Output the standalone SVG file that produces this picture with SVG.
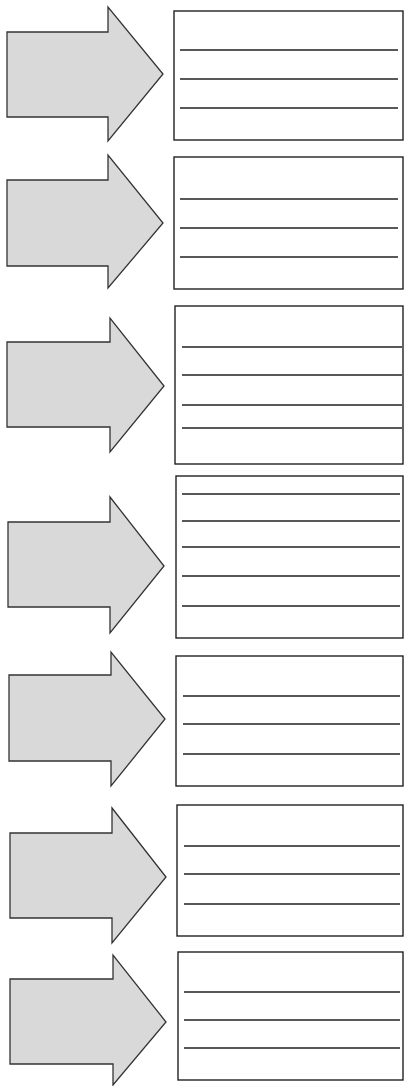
<svg xmlns="http://www.w3.org/2000/svg" width="406" height="1086" viewBox="0 0 406 1086">
<style>
.arrow{fill:#d9d9d9;stroke:#333;stroke-width:1.3;stroke-linejoin:miter}
.box{fill:#fff;stroke:#222;stroke-width:1.4}
.ln{stroke:#222;stroke-width:1.3;fill:none}
</style>
<rect width="406" height="1086" fill="#fff"/>
<g id="arrow1"><polygon class="arrow" points="7,32 108,32 108,7 163,74 108,141 108,117 7,117"/></g>
<g id="box1"><rect class="box" x="174" y="11" width="229" height="129"/>
<path class="ln" d="M180,50H398M180,79H398M180,108H398"/></g>
<g id="arrow2"><polygon class="arrow" points="7,180 108,180 108,155 163,223 108,288 108,266 7,266"/></g>
<g id="box2"><rect class="box" x="174" y="157" width="229" height="132"/>
<path class="ln" d="M180,199H398M180,228H398M180,257H398"/></g>
<g id="arrow3"><polygon class="arrow" points="7,342 110,342 110,318 164,386 110,452 110,427 7,427"/></g>
<g id="box3"><rect class="box" x="175" y="306" width="228" height="158"/>
<path class="ln" d="M182,347H402M182,375H402M182,405H402M182,428H402"/></g>
<g id="arrow4"><polygon class="arrow" points="8,522 110,522 110,497 164,566 110,633 110,607 8,607"/></g>
<g id="box4"><rect class="box" x="176" y="476" width="227" height="162"/>
<path class="ln" d="M182,494H400M182,521H400M182,547H400M182,576H400M182,606H400"/></g>
<g id="arrow5"><polygon class="arrow" points="9,675 111,675 111,652 165,719 111,786 111,761 9,761"/></g>
<g id="box5"><rect class="box" x="176" y="656" width="227" height="130"/>
<path class="ln" d="M183,696H400M183,724H400M183,754H400"/></g>
<g id="arrow6"><polygon class="arrow" points="10,833 112,833 112,808 166,877 112,943 112,918 10,918"/></g>
<g id="box6"><rect class="box" x="177" y="805" width="226" height="131"/>
<path class="ln" d="M184,846H400M184,874H400M184,904H400"/></g>
<g id="arrow7"><polygon class="arrow" points="10,979 113,979 113,955 166,1022 113,1085 113,1064 10,1064"/></g>
<g id="box7"><rect class="box" x="178" y="952" width="225" height="128"/>
<path class="ln" d="M184,992H400M184,1020H400M184,1048H400"/></g>
<g id="connectors"></g>
</svg>
